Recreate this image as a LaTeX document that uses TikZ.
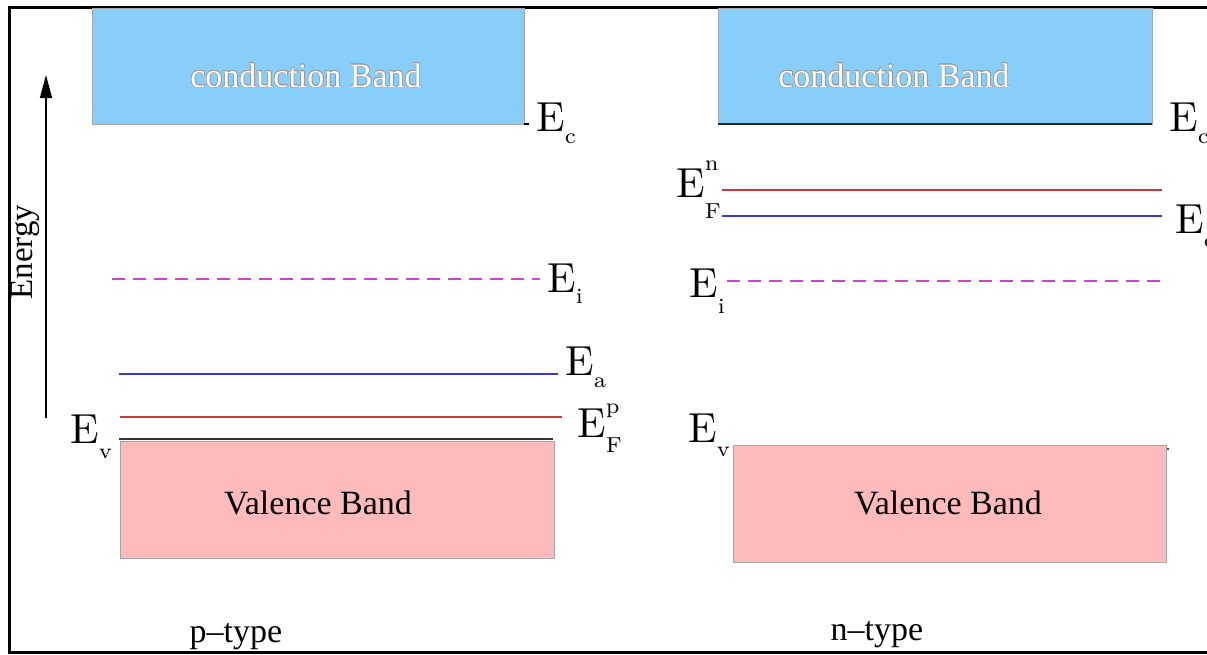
\documentclass[tikz,border=0pt]{standalone}
\usepackage{fontspec}
\setmainfont{Liberation Serif}
\usepackage{contour}
\contourlength{0.6pt}
\usetikzlibrary{arrows.meta}
\definecolor{cbfill}{HTML}{87CEFA}
\definecolor{vbfill}{HTML}{FFBBBB}
\definecolor{lvred}{HTML}{CC3A3A}
\definecolor{lvblue}{HTML}{3A3ACC}
\definecolor{lvmag}{HTML}{CC44CC}
\newcommand\lmsub[1]{\scalebox{3.1}{\fontfamily{lmr}\fontsize{7}{7}\selectfont #1}}
\newcommand\lmbig{\scalebox{4.2}{\fontfamily{lmr}\fontsize{10}{10}\selectfont E}}
% E label: #1 subscript, #2 superscript, #3 drop of subscript, #4 rise of superscript
\newcommand\elab[4]{\lmbig\rlap{\raisebox{-#3pt}{\lmsub{#1}}}\raisebox{#4pt}{\lmsub{#2}}}
\tikzset{
  band/.style={draw=black!35, line width=0.8pt},
  level/.style={line width=2pt},
  elabel/.style={anchor=base west, inner sep=0pt},
  bandtext/.style={inner sep=0pt, font=\fontsize{34}{34}\selectfont},
  typetext/.style={anchor=base, inner sep=0pt, font=\fontsize{34}{34}\selectfont},
}
\begin{document}
\begin{tikzpicture}[x=1pt,y=-1pt]
\useasboundingbox (0,0) rectangle (1207,654);
\clip (0,0) rectangle (1207,654);
% frame
\draw[line width=3pt] (1207,7) -- (9,7) -- (9,652) -- (1207,652);

% ---------- p-type ----------
\draw[band, fill=cbfill] (92,8) rectangle (524,124);
\node[bandtext] (cbL) at (306,76) {\contour{black!40}{\textcolor{white}{conduction Band}}};
\draw[line width=1.5pt] (524,124) -- (529,124);
\node[elabel] (EcL) at (536,131) {\elab{c}{}{12}{0}};

\draw[level, lvmag, dash pattern=on 13pt off 8pt] (112,279) -- (540,279);
\node[elabel] (EiL) at (547,292) {\elab{i}{}{11}{0}};

\draw[level, lvblue] (119,374) -- (558,374);
\node[elabel] (Ea) at (565,375) {\elab{a}{}{12}{0}};

\draw[level, lvred] (120,417) -- (562,417);
\node[elabel] (EFp) at (577,437) {\elab{F}{p}{15}{24}};

\draw[level, black!80] (119,439) -- (553,439);
\node[elabel] (EvL) at (70,443) {\elab{v}{}{15}{0}};

\draw[band, fill=vbfill] (120,441) rectangle (554,558);
\node[bandtext] (vbL) at (318,503) {Valence Band};

\node[typetext] (ptype) at (236,642) {p–type};

% energy axis
\coordinate (ax0) at (46,418);
\coordinate (ax1) at (46,75);
\draw[line width=1.5pt, -{Triangle[length=23pt,width=12pt]}] (ax0) -- (ax1);
\node[inner sep=0pt, rotate=90, font=\fontsize{33}{33}\selectfont] (energy) at (25,252) {Energy};

% ---------- n-type ----------
\draw[band, fill=cbfill] (718,8) rectangle (1152,124);
\draw[line width=2pt, black!85] (718,124) -- (1152,124);
\node[bandtext] (cbR) at (894,76) {\contour{black!40}{\textcolor{white}{conduction Band}}};
\node[elabel] (EcR) at (1169,131) {\elab{c}{}{12}{0}};

\draw[level, lvred] (722,190) -- (1162,190);
\node[elabel] (EFn) at (676,197) {\elab{F}{n}{21}{27}};

\draw[level, lvblue] (722,216) -- (1162,216);
\node[elabel] (Ed) at (1175,233) {\elab{d}{}{14}{0}};

\draw[level, lvmag, dash pattern=on 13pt off 8pt] (727,281) -- (1160,281);
\node[elabel] (EiR) at (689,297) {\elab{i}{}{16}{0}};

\draw[band, fill=vbfill] (733,445) rectangle (1166,562);
\fill[black!70] (1168,449) circle (1.3pt);
\node[bandtext] (vbR) at (948,503) {Valence Band};
\node[elabel] (EvR) at (688,442) {\elab{v}{}{14}{0}};

\node[typetext] (ntype) at (877,640) {n–type};
\end{tikzpicture}
\end{document}
